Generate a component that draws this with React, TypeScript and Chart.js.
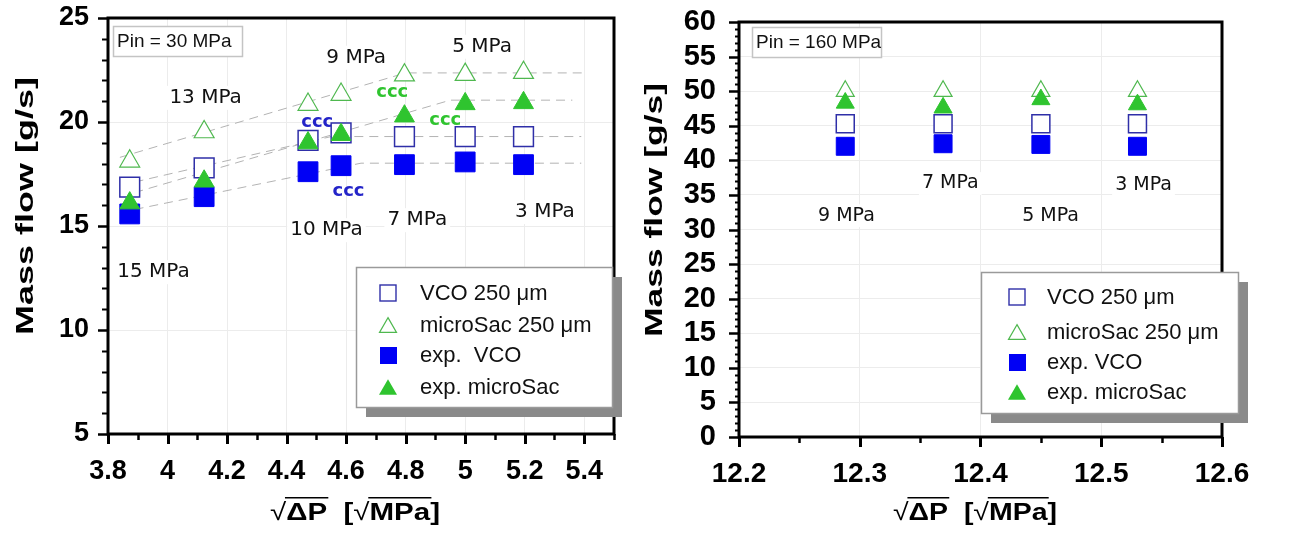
import React, { useEffect, useRef } from 'react';
import { Chart, registerables } from 'chart.js';

Chart.register(...registerables);

// ---------- DATA: left panel (Pin = 30 MPa) ----------
const leftX = [3.873, 4.123, 4.472, 4.583, 4.796, 5.0, 5.196];
const leftVcoSim = [16.87, 17.79, 19.12, 19.48, 19.3, 19.3, 19.3];
const leftMicroSim = [18.11, 19.52, 20.84, 21.32, 22.25, 22.28, 22.37];
const leftVcoExp = [15.58, 16.41, 17.61, 17.9, 17.95, 18.08, 17.95];
const leftMicroExp = [16.1, 17.15, 18.99, 19.39, 20.28, 20.87, 20.92];

// dashed trend lines (left panel)
const trendMicroSimX = [3.84, 4.8, 5.41];
const trendMicroSimY = [18.3, 22.36, 22.36];
const trendMicroExpX = [3.84, 4.95, 5.36];
const trendMicroExpY = [16.4, 21.05, 21.05];
const trendVcoSimX = [3.84, 4.55, 5.39];
const trendVcoSimY = [16.95, 19.3, 19.3];
const trendVcoExpX = [3.84, 4.65, 5.39];
const trendVcoExpY = [15.65, 18.02, 18.02];

const leftXTicks = [3.8, 4.0, 4.2, 4.4, 4.6, 4.8, 5.0, 5.2, 5.4];
const leftYTicks = [5, 10, 15, 20, 25];

// ---------- DATA: right panel (Pin = 160 MPa) ----------
const rightX = [12.288, 12.369, 12.45, 12.53];
const rightVcoSim = [45.3, 45.3, 45.3, 45.3];
const rightMicroSim = [50.0, 50.0, 50.0, 50.0];
const rightVcoExp = [42.03, 42.4, 42.3, 42.03];
const rightMicroExp = [48.3, 47.6, 48.8, 48.06];

const rightXTicks = [12.2, 12.3, 12.4, 12.5, 12.6];
const rightYTicks = [0, 5, 10, 15, 20, 25, 30, 35, 40, 45, 50, 55, 60];

const leftLegendLabels = ['VCO 250 \u03bcm', 'microSac 250 \u03bcm', 'exp.  VCO', 'exp. microSac'];
const rightLegendLabels = ['VCO 250 \u03bcm', 'microSac 250 \u03bcm', 'exp. VCO', 'exp. microSac'];

const leftAnnotations = [
  { text: '15 MPa', x: 3.953, y: 12.78, kind: 'label' },
  { text: '13 MPa', x: 4.128, y: 21.16, kind: 'label' },
  { text: '9 MPa', x: 4.634, y: 23.09, kind: 'label' },
  { text: '5 MPa', x: 5.057, y: 23.62, kind: 'label' },
  { text: '10 MPa', x: 4.534, y: 14.8, kind: 'label' },
  { text: '7 MPa', x: 4.839, y: 15.28, kind: 'label' },
  { text: '3 MPa', x: 5.268, y: 15.67, kind: 'label' },
  { text: 'ccc', x: 4.503, y: 20.0, kind: 'blue' },
  { text: 'ccc', x: 4.755, y: 21.45, kind: 'green' },
  { text: 'ccc', x: 4.933, y: 20.1, kind: 'green' },
  { text: 'ccc', x: 4.608, y: 16.68, kind: 'blue' },
];

const rightAnnotations = [
  { text: '9 MPa', x: 12.289, y: 32.0, kind: 'label' },
  { text: '7 MPa', x: 12.375, y: 36.65, kind: 'label' },
  { text: '5 MPa', x: 12.458, y: 31.88, kind: 'label' },
  { text: '3 MPa', x: 12.535, y: 36.36, kind: 'label' },
];

// ---------- styles ----------
const SQ_OPEN = '#2f2fa8';
const SQ_FILL = '#0000f5';
const TRI_OPEN = '#4fb84f';
const TRI_FILL = '#2fc42f';
const SANS = '"Liberation Sans", Arial, sans-serif';
const DEJA = '"DejaVu Sans", sans-serif';

type Panel = {
  width: number;
  height: number;
  top: number;
  right: number;
  yAxisW: number;
  xAxisH: number;
  xMin: number;
  xMax: number;
  yMin: number;
  yMax: number;
  xTicks: number[];
  yTicks: number[];
  xMinor: number;
  yMinor: number;
  xTickFont: number;
  yTickFont: number;
  xTickPad: number;
  yTickPad: number;
  yMinorLen: number;
  sqR: number;
  triR: number;
  xs: number[];
  vcoSim: number[];
  microSim: number[];
  vcoExp: number[];
  microExp: number[];
  trends: { x: number[]; y: number[] }[];
  pin: { text: string; x: number; y: number; w: number; h: number; tx: number };
  legend: { x: number; y: number; w: number; h: number; mx: number; tx: number; rows: number[]; labels: string[] };
  annotations: { text: string; x: number; y: number; kind: string }[];
  labelFont: number;
  yTitle: { x: number; cy: number; len: number };
  xTitle: { cx: number; y: number; len: number };
};

function fmt(v: number) {
  return String(Math.round(v * 100) / 100);
}

function drawTri(ctx: CanvasRenderingContext2D, x: number, y: number, w: number, fill: boolean, color: string) {
  const h = w * 0.866;
  ctx.beginPath();
  ctx.moveTo(x, y - h / 2);
  ctx.lineTo(x + w / 2, y + h / 2);
  ctx.lineTo(x - w / 2, y + h / 2);
  ctx.closePath();
  if (fill) {
    ctx.fillStyle = color;
    ctx.fill();
  } else {
    ctx.fillStyle = '#fff';
    ctx.fill();
    ctx.strokeStyle = color;
    ctx.lineWidth = 1.2;
    ctx.stroke();
  }
}

function makePlugin(p: Panel) {
  return {
    id: 'deco',
    beforeDatasetsDraw(chart: any) {
      const { ctx, scales } = chart;
      const sx = scales.x;
      const sy = scales.y;
      ctx.save();
      ctx.textAlign = 'center';
      ctx.textBaseline = 'middle';
      for (const a of p.annotations) {
        const px = sx.getPixelForValue(a.x);
        const py = sy.getPixelForValue(a.y);
        if (a.kind === 'label') {
          ctx.font = `${p.labelFont}px ${DEJA}`;
          const w = ctx.measureText(a.text).width;
          ctx.fillStyle = '#fff';
          ctx.fillRect(px - w / 2 - 3, py - p.labelFont * 0.6, w + 6, p.labelFont * 1.2);
          ctx.fillStyle = '#111';
        } else {
          ctx.font = `bold 18px ${DEJA}`;
          ctx.fillStyle = a.kind === 'blue' ? '#2424c8' : '#2fc42f';
        }
        ctx.fillText(a.text, px, py);
      }
      ctx.restore();
    },
    afterDraw(chart: any) {
      const { ctx, chartArea: a, scales } = chart;
      const sx = scales.x;
      const sy = scales.y;
      ctx.save();
      ctx.strokeStyle = '#000';
      ctx.lineCap = 'butt';
      // y ticks
      {
        const n = Math.round((p.yMax - p.yMin) / p.yMinor);
        for (let i = 0; i <= n; i++) {
          const v = p.yMin + i * p.yMinor;
          const major = p.yTicks.some((t) => Math.abs(t - v) < p.yMinor / 10);
          const len = major ? 10 : p.yMinorLen;
          const py = Math.round(sy.getPixelForValue(v)) + 0.5;
          ctx.lineWidth = major ? 2.5 : 2;
          ctx.beginPath();
          ctx.moveTo(a.left - len, py);
          ctx.lineTo(a.left, py);
          ctx.stroke();
        }
      }
      // x ticks
      {
        const n = Math.round((p.xMax - p.xMin) / p.xMinor);
        for (let i = 0; i <= n; i++) {
          const v = p.xMin + i * p.xMinor;
          const major = p.xTicks.some((t) => Math.abs(t - v) < p.xMinor / 10);
          const len = major ? 10 : 6;
          const px = Math.round(sx.getPixelForValue(v)) + 0.5;
          ctx.lineWidth = major ? 3 : 2.5;
          ctx.beginPath();
          ctx.moveTo(px, a.bottom);
          ctx.lineTo(px, a.bottom + len);
          ctx.stroke();
        }
      }
      // frame
      ctx.lineWidth = 3;
      ctx.strokeRect(a.left, a.top, a.right - a.left, a.bottom - a.top);

      // pin box
      ctx.fillStyle = '#fff';
      ctx.fillRect(p.pin.x, p.pin.y, p.pin.w, p.pin.h);
      ctx.strokeStyle = '#c4c4c4';
      ctx.lineWidth = 1.5;
      ctx.strokeRect(p.pin.x + 0.5, p.pin.y + 0.5, p.pin.w, p.pin.h);
      ctx.fillStyle = '#111';
      ctx.font = `19px ${SANS}`;
      ctx.textAlign = 'left';
      ctx.textBaseline = 'middle';
      ctx.fillText(p.pin.text, p.pin.tx, p.pin.y + p.pin.h / 2 + 1);

      // legend
      const L = p.legend;
      ctx.fillStyle = '#8a8a8a';
      ctx.fillRect(L.x + 10, L.y + 10, L.w, L.h);
      ctx.fillStyle = '#fff';
      ctx.fillRect(L.x, L.y, L.w, L.h);
      ctx.strokeStyle = '#9a9a9a';
      ctx.lineWidth = 1.5;
      ctx.strokeRect(L.x + 0.5, L.y + 0.5, L.w, L.h);
      const ms = 16;
      ctx.strokeStyle = SQ_OPEN;
      ctx.lineWidth = 1.4;
      ctx.strokeRect(L.mx - ms / 2, L.rows[0] - ms / 2, ms, ms);
      drawTri(ctx, L.mx, L.rows[1], 17, false, TRI_OPEN);
      ctx.fillStyle = SQ_FILL;
      ctx.fillRect(L.mx - ms / 2, L.rows[2] - ms / 2, ms + 1, ms + 1);
      drawTri(ctx, L.mx, L.rows[3], 18, true, TRI_FILL);
      ctx.fillStyle = '#111';
      ctx.font = `22px ${SANS}`;
      ctx.textAlign = 'left';
      ctx.textBaseline = 'middle';
      L.labels.forEach((t, i) => ctx.fillText(t, L.tx, L.rows[i] + 1));

      // y title (rotated)
      ctx.save();
      ctx.font = `bold 24px ${SANS}`;
      const yt = 'Mass flow [g/s]';
      const yw = ctx.measureText(yt).width;
      ctx.translate(p.yTitle.x, p.yTitle.cy);
      ctx.rotate(-Math.PI / 2);
      ctx.scale(p.yTitle.len / yw, 1);
      ctx.textAlign = 'center';
      ctx.textBaseline = 'alphabetic';
      ctx.fillStyle = '#000';
      ctx.fillText(yt, 0, 0);
      ctx.restore();

      // x title: √ΔP  [√MPa]
      ctx.save();
      const parts = [
        { t: '\u221a', b: false, bar: false },
        { t: '\u0394P', b: true, bar: true },
        { t: '  [', b: true, bar: false },
        { t: '\u221a', b: false, bar: false },
        { t: 'MPa', b: true, bar: true },
        { t: ']', b: true, bar: false },
      ];
      const fs = 24;
      let total = 0;
      const widths = parts.map((q) => {
        ctx.font = `${q.b ? 'bold ' : ''}${fs}px ${SANS}`;
        const w = ctx.measureText(q.t).width;
        total += w;
        return w;
      });
      const scale = p.xTitle.len / total;
      ctx.translate(p.xTitle.cx - p.xTitle.len / 2, p.xTitle.y);
      ctx.scale(scale, 1);
      ctx.fillStyle = '#000';
      ctx.strokeStyle = '#000';
      ctx.textAlign = 'left';
      ctx.textBaseline = 'alphabetic';
      let cx = 0;
      parts.forEach((q, i) => {
        ctx.font = `${q.b ? 'bold ' : ''}${fs}px ${SANS}`;
        ctx.fillText(q.t, cx, 0);
        if (q.bar) {
          ctx.lineWidth = 1.6;
          ctx.beginPath();
          ctx.moveTo(cx - 1, -fs * 0.93);
          ctx.lineTo(cx + widths[i] + 1, -fs * 0.93);
          ctx.stroke();
        }
        cx += widths[i];
      });
      ctx.restore();

      ctx.restore();
    },
  };
}

function buildConfig(p: Panel): any {
  const pts = (xs: number[], ys: number[]) => xs.map((x, i) => ({ x, y: ys[i] }));
  const trendSets = p.trends.map((t) => ({
    data: pts(t.x, t.y),
    showLine: true,
    pointRadius: 0,
    borderColor: '#b3b3b3',
    borderWidth: 1,
    borderDash: [9, 6],
    order: 5,
  }));
  const datasets = [
    {
      label: 'exp. microSac',
      data: pts(p.xs, p.microExp),
      pointStyle: 'triangle',
      pointRadius: p.triR,
      backgroundColor: TRI_FILL,
      borderColor: TRI_FILL,
      borderWidth: 1,
      showLine: false,
      order: 1,
    },
    {
      label: 'exp. VCO',
      data: pts(p.xs, p.vcoExp),
      pointStyle: 'rect',
      pointRadius: p.sqR,
      backgroundColor: SQ_FILL,
      borderColor: SQ_FILL,
      borderWidth: 1,
      showLine: false,
      order: 2,
    },
    {
      label: 'microSac 250',
      data: pts(p.xs, p.microSim),
      pointStyle: 'triangle',
      pointRadius: p.triR,
      backgroundColor: '#ffffff',
      borderColor: TRI_OPEN,
      borderWidth: 1.2,
      showLine: false,
      order: 3,
    },
    {
      label: 'VCO 250',
      data: pts(p.xs, p.vcoSim),
      pointStyle: 'rect',
      pointRadius: p.sqR,
      backgroundColor: '#ffffff',
      borderColor: SQ_OPEN,
      borderWidth: 1.5,
      showLine: false,
      order: 4,
    },
    ...trendSets,
  ];
  return {
    type: 'scatter',
    data: { datasets },
    options: {
      animation: false,
      responsive: false,
      maintainAspectRatio: false,
      layout: { padding: { left: 0, top: p.top, right: p.right, bottom: 0 } },
      plugins: { legend: { display: false }, tooltip: { enabled: false } },
      scales: {
        x: {
          type: 'linear',
          min: p.xMin,
          max: p.xMax,
          afterBuildTicks: (s: any) => {
            s.ticks = p.xTicks.map((v) => ({ value: v }));
          },
          afterFit: (s: any) => {
            s.height = p.xAxisH;
            s.paddingLeft = 0;
            s.paddingRight = 0;
            s.paddingTop = 0;
            s.paddingBottom = 0;
          },
          grid: { color: '#ececec', lineWidth: 1, drawTicks: false },
          border: { display: false },
          ticks: {
            color: '#000',
            font: { family: SANS, size: p.xTickFont, weight: 'bold' },
            padding: p.xTickPad,
            maxRotation: 0,
            autoSkip: false,
            callback: (v: number) => fmt(v),
          },
        },
        y: {
          type: 'linear',
          min: p.yMin,
          max: p.yMax,
          afterBuildTicks: (s: any) => {
            s.ticks = p.yTicks.map((v) => ({ value: v }));
          },
          afterFit: (s: any) => {
            s.width = p.yAxisW;
            s.paddingLeft = 0;
            s.paddingRight = 0;
            s.paddingTop = 0;
            s.paddingBottom = 0;
          },
          grid: { color: '#ececec', lineWidth: 1, drawTicks: false },
          border: { display: false },
          ticks: {
            color: '#000',
            font: { family: SANS, size: p.yTickFont, weight: 'bold' },
            padding: p.yTickPad,
            autoSkip: false,
            callback: (v: number) => fmt(v),
          },
        },
      },
    },
    plugins: [makePlugin(p)],
  };
}

const leftPanel: Panel = {
  width: 640,
  height: 538,
  top: 18,
  right: 26,
  yAxisW: 108,
  xAxisH: 104,
  xMin: 3.8,
  xMax: 5.5,
  yMin: 5,
  yMax: 25,
  xTicks: leftXTicks,
  yTicks: leftYTicks,
  xMinor: 0.1,
  yMinor: 1,
  xTickFont: 27,
  yTickFont: 27,
  xTickPad: 21,
  yTickPad: 19,
  yMinorLen: 6,
  sqR: 14,
  triR: 11.5,
  xs: leftX,
  vcoSim: leftVcoSim,
  microSim: leftMicroSim,
  vcoExp: leftVcoExp,
  microExp: leftMicroExp,
  trends: [
    { x: trendMicroSimX, y: trendMicroSimY },
    { x: trendMicroExpX, y: trendMicroExpY },
    { x: trendVcoSimX, y: trendVcoSimY },
    { x: trendVcoExpX, y: trendVcoExpY },
  ],
  pin: { text: 'Pin = 30 MPa', x: 113, y: 26, w: 129, h: 30, tx: 117 },
  legend: { x: 356, y: 267, w: 256, h: 140, mx: 388, tx: 420, rows: [293, 325, 355, 387], labels: leftLegendLabels },
  annotations: leftAnnotations,
  labelFont: 20,
  yTitle: { x: 33, cy: 206, len: 258 },
  xTitle: { cx: 355, y: 520, len: 170 },
};

const rightPanel: Panel = {
  width: 667,
  height: 538,
  top: 22,
  right: 85,
  yAxisW: 99,
  xAxisH: 101,
  xMin: 12.2,
  xMax: 12.6,
  yMin: 0,
  yMax: 60,
  xTicks: rightXTicks,
  yTicks: rightYTicks,
  xMinor: 0.05,
  yMinor: 1,
  xTickFont: 28,
  yTickFont: 29,
  xTickPad: 20,
  yTickPad: 23,
  yMinorLen: 4,
  sqR: 12.7,
  triR: 10.4,
  xs: rightX,
  vcoSim: rightVcoSim,
  microSim: rightMicroSim,
  vcoExp: rightVcoExp,
  microExp: rightMicroExp,
  trends: [],
  pin: { text: 'Pin = 160 MPa', x: 112, y: 27, w: 129, h: 30, tx: 116 },
  legend: { x: 341, y: 272, w: 257, h: 141, mx: 377, tx: 407, rows: [297, 332, 362, 392], labels: rightLegendLabels },
  annotations: rightAnnotations,
  labelFont: 19,
  yTitle: { x: 22, cy: 210, len: 254 },
  xTitle: { cx: 335, y: 520, len: 164 },
};

function ChartPanel({ panel, left }: { panel: Panel; left: number }) {
  const ref = useRef<HTMLCanvasElement | null>(null);
  useEffect(() => {
    if (!ref.current) return;
    const chart = new Chart(ref.current, buildConfig(panel));
    return () => chart.destroy();
  }, [panel]);
  return (
    <canvas
      ref={ref}
      width={panel.width}
      height={panel.height}
      style={{ position: 'absolute', left, top: 0, width: panel.width, height: panel.height }}
    />
  );
}

export default function App() {
  return (
    <div style={{ position: 'fixed', left: 0, top: 0, width: 1307, height: 538, background: '#fff' }}>
      <ChartPanel panel={leftPanel} left={0} />
      <ChartPanel panel={rightPanel} left={640} />
    </div>
  );
}
